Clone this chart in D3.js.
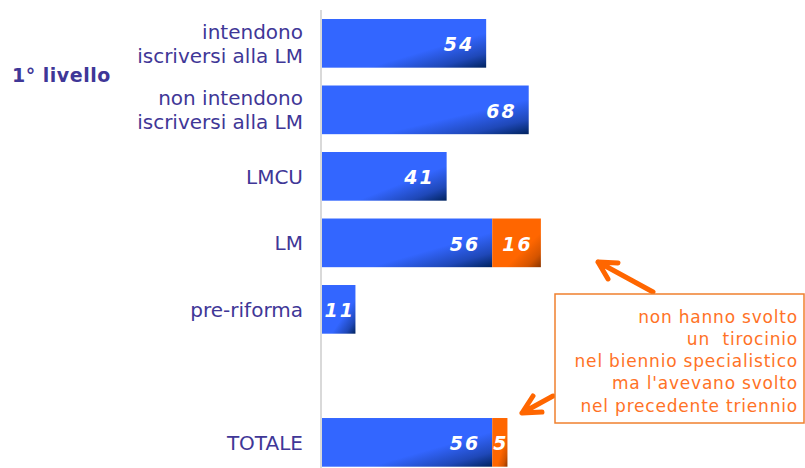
<!DOCTYPE html>
<html>
<head>
<meta charset="utf-8">
<script src="https://cdn.jsdelivr.net/npm/d3@7/dist/d3.min.js"></script>
<style>
  html, body { margin: 0; padding: 0; background: #ffffff; }
  svg { display: block; }
</style>
</head>
<body>
<div id="chart"></div>
<script>
// ---- data ----
const categories = ["intendono|iscriversi alla LM", "non intendono|iscriversi alla LM", "LMCU", "LM", "pre-riforma", "", "TOTALE"];
const blueValues = [54, 68, 41, 56, 11, null, 56];
const orangeValues = [0, 0, 0, 16, 0, null, 5];
const groupLabel = "1° livello";
const noteLines = ["non hanno svolto", "un\u00a0 tirocinio", "nel biennio specialistico", "ma l'avevano svolto", "nel precedente triennio"];

// ---- layout ----
const W = 805, H = 468;
const svg = d3.select("#chart").append("svg").attr("width", W).attr("height", H);

const defs = svg.append("defs");
function grad(id, c0, cm, c1) {
  const g = defs.append("linearGradient").attr("id", id)
    .attr("x1", 0).attr("y1", 0).attr("x2", 1).attr("y2", 1);
  g.append("stop").attr("offset", 0).attr("stop-color", c0);
  g.append("stop").attr("offset", 0.64).attr("stop-color", c0);
  g.append("stop").attr("offset", 0.85).attr("stop-color", cm);
  g.append("stop").attr("offset", 1).attr("stop-color", c1);
}
grad("gBlue", "#3366ff", "#1f48b8", "#00235e");
grad("gOrange", "#ff6600", "#d45400", "#8a3500");

const keys = categories.map((c, i) => "k" + i);
const y = d3.scaleBand().domain(keys).range([19, 466.7]).paddingInner(0.268).paddingOuter(0);
const x = d3.scaleLinear().domain([0, 100]).range([322, 626]);

// axis line
svg.append("line").attr("x1", 321).attr("x2", 321).attr("y1", 10).attr("y2", H)
  .attr("stroke", "#d9d9d9").attr("stroke-width", 2);

const rows = categories.map((c, i) => ({ key: keys[i], label: c, b: blueValues[i], o: orangeValues[i] }))
  .filter(d => d.b != null);

// blue bars
svg.selectAll("rect.blue").data(rows).join("rect").attr("class", "blue")
  .attr("x", x(0)).attr("y", d => y(d.key))
  .attr("width", d => x(d.b) - x(0)).attr("height", y.bandwidth())
  .attr("fill", "url(#gBlue)");

// orange bars
svg.selectAll("rect.orange").data(rows.filter(d => d.o > 0)).join("rect").attr("class", "orange")
  .attr("x", d => x(d.b)).attr("y", d => y(d.key))
  .attr("width", d => x(d.b + d.o) - x(d.b)).attr("height", y.bandwidth())
  .attr("fill", "url(#gOrange)");

const valFont = "'DejaVu Sans', Verdana, sans-serif";
// blue value labels
svg.selectAll("text.bv").data(rows).join("text").attr("class", "bv")
  .attr("x", d => (x(d.b) - x(0) < 50) ? (x(0) + x(d.b)) / 2 + 1 : x(d.b) - 12)
  .attr("y", d => y(d.key) + y.bandwidth() / 2 + 8)
  .attr("text-anchor", d => (x(d.b) - x(0) < 50) ? "middle" : "end")
  .attr("font-family", valFont).attr("font-size", 19).attr("font-weight", "bold")
  .attr("font-style", "italic").attr("letter-spacing", 2).attr("fill", "#ffffff")
  .text(d => d.b);

// orange value labels
svg.selectAll("text.ov").data(rows.filter(d => d.o > 0)).join("text").attr("class", "ov")
  .attr("x", d => (x(d.b) + x(d.b + d.o)) / 2 + 1)
  .attr("y", d => y(d.key) + y.bandwidth() / 2 + 8)
  .attr("text-anchor", "middle")
  .attr("font-family", valFont).attr("font-size", 19).attr("font-weight", "bold")
  .attr("font-style", "italic").attr("letter-spacing", 2).attr("fill", "#ffffff")
  .text(d => d.o);

// category labels
const labColor = "#3f3797";
rows.forEach(d => {
  const lines = d.label.split("|");
  const cy = y(d.key) + y.bandwidth() / 2;
  const lh = 24;
  const t = svg.append("text").attr("text-anchor", "end")
    .attr("font-family", "'DejaVu Sans', Verdana, sans-serif").attr("font-size", 20)
    .attr("fill", labColor);
  lines.forEach((ln, j) => {
    t.append("tspan").attr("x", 303)
      .attr("y", cy + 7.3 + (j - (lines.length - 1) / 2) * lh)
      .text(ln);
  });
});

// group label
svg.append("text").attr("x", 12).attr("y", 82)
  .attr("font-family", "'DejaVu Sans', Verdana, sans-serif").attr("font-size", 19)
  .attr("font-weight", "bold").attr("letter-spacing", 0.5).attr("fill", labColor)
  .text(groupLabel);

// arrows
const arrowColor = "#ff6600";
function arrow(tail, tip, a1, a2) {
  const p = d3.path();
  p.moveTo(tail[0], tail[1]); p.lineTo(tip[0], tip[1]);
  p.moveTo(a1[0], a1[1]); p.lineTo(tip[0], tip[1]); p.lineTo(a2[0], a2[1]);
  svg.append("path").attr("d", p.toString()).attr("fill", "none")
    .attr("stroke", arrowColor).attr("stroke-width", 5)
    .attr("stroke-linecap", "round").attr("stroke-linejoin", "round");
}
arrow([653, 292], [598, 262], [618, 263], [608, 279]);
arrow([553, 396], [522, 413], [533, 396], [542, 412]);

// annotation box
svg.append("rect").attr("x", 555).attr("y", 294).attr("width", 249).attr("height", 129)
  .attr("fill", "#ffffff").attr("stroke", "#f0802e").attr("stroke-width", 1.5);

const note = svg.append("text").attr("text-anchor", "end")
  .attr("font-family", "'DejaVu Sans', Verdana, sans-serif").attr("font-size", 17)
  .attr("letter-spacing", 0.8).attr("fill", "#ff7226");
noteLines.forEach((ln, j) => {
  note.append("tspan").attr("x", 798).attr("y", 322.5 + j * 22.3).text(ln);
});
</script>
</body>
</html>
